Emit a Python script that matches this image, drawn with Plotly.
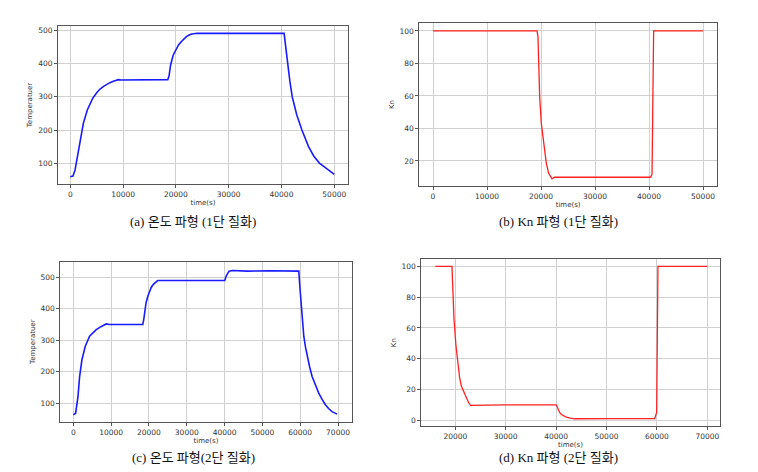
import plotly.graph_objects as go

W, H = 758, 472

# (a) temperature, single-stage nitriding
t_a = [0, 500, 900, 1330, 1830, 2470, 3220, 4240, 5000, 5630, 6300, 6890, 7500, 8150, 9100, 9600, 10000, 12000, 14000,
       16000, 18000, 18460,
       18700, 19000, 19500, 20000, 20500, 21000, 21500, 22000, 22500, 23000, 24000, 28000, 32000, 36000, 40000, 40500,
       40800, 41150, 41600, 42030, 42900, 43870, 44500, 45130, 46100, 47220, 48000, 48610, 49300, 50000]
T_a = [60, 62, 80, 120, 170, 220, 260, 295, 312, 323, 331, 337, 342, 346, 351, 350, 350, 350, 351,
       350, 350, 351,
       362, 395, 425, 442, 455, 465, 473, 480, 485, 488, 490, 490, 491, 490, 490, 490,
       450, 400, 345, 300, 245, 200, 172, 150, 122, 100, 91, 84, 75, 67]

# (b) Kn, single-stage nitriding
t_b = [0, 10000, 19260, 19440, 19600, 19750, 20060, 20490, 20990, 21420, 21800, 22040, 22500, 25000, 30000, 35000,
       40300, 40560, 40860, 45000, 50000]
K_b = [100, 100, 100, 96.5, 75, 59.6, 43, 31, 18.6, 12.4, 10, 9, 10, 10, 10, 10,
       10, 12, 100, 100, 100]

# (c) temperature, two-stage nitriding
t_c = [0, 615, 1230, 1670, 2280, 3160, 4300, 5200, 6060, 7000, 7820, 8700, 9500, 10000, 14000, 18360,
       18620, 19230, 19700, 20110, 20600, 21170, 21700, 22310, 26000, 32000, 40050, 40490, 41190, 42070, 46000, 52000,
       59630, 59900, 60340, 60950, 61400, 61830, 62500, 63150, 64000, 64900, 65800, 66660, 67500, 68420, 69740]
T_c = [63, 68, 121, 185, 238, 281, 313, 325, 334, 341, 347, 352, 350, 350, 350, 350,
       366, 419, 440, 456, 468, 478, 485, 490, 490, 490, 490, 506, 520, 522, 520, 521,
       520, 472, 398, 313, 278, 249, 215, 185, 156, 132, 112, 95, 83, 73, 65]

# (d) Kn, two-stage nitriding
t_d = [16030, 19340, 19550, 19740, 20130, 20530, 20850, 21190, 21980, 22650, 23040, 30000, 40040, 40370, 40700,
       41030, 41500, 42020, 42800, 43680, 50000, 59550, 59950, 60210, 65000, 70000]
K_d = [100, 100, 82, 65.8, 48.4, 35.3, 28, 22.2, 15.7, 11.3, 9.6, 10, 10, 7, 5,
       3.7, 2.7, 2, 1.3, 0.9, 1, 1, 5, 100, 100, 100]

captions = ["(a) 온도 파형 (1단 질화)", "(b) Kn 파형 (1단 질화)", "(c) 온도 파형(2단 질화)", "(d) Kn 파형 (2단 질화)"]

def px_x(a, b):
    return [a / W, b / W]

def px_y(top, bottom):
    return [1 - bottom / H, 1 - top / H]

panels = [
    dict(x=t_a, y=T_a, color="#1a1aff", width=1.6, xd=px_x(58, 348), yd=px_y(26, 184),
         xr=[-2330, 52600], yr=[38, 512], xt=[0, 10000, 20000, 30000, 40000, 50000],
         yt=[100, 200, 300, 400, 500], ytitle="Temperatuer"),
    dict(x=t_b, y=K_b, color="#ff2020", width=1.3, xd=px_x(419.3, 717), yd=px_y(23.3, 185.7),
         xr=[-2537, 52593], yr=[4.8, 104.7], xt=[0, 10000, 20000, 30000, 40000, 50000],
         yt=[20, 40, 60, 80, 100], ytitle="Kn"),
    dict(x=t_c, y=T_c, color="#1a1aff", width=1.6, xd=px_x(60.3, 351.7), yd=px_y(261.7, 421.7),
         xr=[-3445, 73620], yr=[41, 550], xt=[0, 10000, 20000, 30000, 40000, 50000, 60000, 70000],
         yt=[100, 200, 300, 400, 500], ytitle="Temperatuer"),
    dict(x=t_d, y=K_d, color="#ff2020", width=1.3, xd=px_x(421.3, 719.7), yd=px_y(259.3, 426),
         xr=[13254, 72460], yr=[-3.8, 104.6], xt=[20000, 30000, 40000, 50000, 60000, 70000],
         yt=[0, 20, 40, 60, 80, 100], ytitle="Kn"),
]

fig = go.Figure()
tickfont = dict(family="DejaVu Sans", size=7.5, color="#333333")
titlefont = dict(family="DejaVu Sans", size=7, color="#333333")
layout = {}
for i, p in enumerate(panels):
    n = "" if i == 0 else str(i + 1)
    fig.add_trace(go.Scatter(x=p["x"], y=p["y"], mode="lines",
                             line=dict(color=p["color"], width=p["width"]),
                             xaxis="x" + n, yaxis="y" + n, showlegend=False))
    layout["xaxis" + n] = dict(domain=p["xd"], anchor="y" + n, range=p["xr"], tickvals=p["xt"],
                               ticktext=[str(v) for v in p["xt"]],
                               showgrid=True, gridcolor="#d0d0d0", gridwidth=1, zeroline=False,
                               showline=True, mirror=True, linecolor="#555555", linewidth=1,
                               ticks="outside", ticklen=3, tickcolor="#555555", tickfont=tickfont,
                               title=dict(text="time(s)", font=titlefont, standoff=2))
    layout["yaxis" + n] = dict(domain=p["yd"], anchor="x" + n, range=p["yr"], tickvals=p["yt"],
                               showgrid=True, gridcolor="#d0d0d0", gridwidth=1, zeroline=False,
                               showline=True, mirror=True, linecolor="#555555", linewidth=1,
                               ticks="outside", ticklen=3, tickcolor="#555555", tickfont=tickfont,
                               title=dict(text=p["ytitle"], font=titlefont, standoff=4))

cap_pos = [(193, 221), (558, 221), (193, 457), (558, 457)]
annotations = []
for cap, (cx, cy) in zip(captions, cap_pos):
    annotations.append(dict(text=cap, x=cx / W, y=1 - cy / H, xref="paper", yref="paper",
                            showarrow=False, xanchor="center", yanchor="middle",
                            font=dict(family="Liberation Serif, Noto Sans CJK KR", size=13, color="#111111")))

fig.update_layout(width=W, height=H, margin=dict(l=0, r=0, t=0, b=0),
                  paper_bgcolor="white", plot_bgcolor="white", annotations=annotations, **layout)

fig.write_html("out.html")
